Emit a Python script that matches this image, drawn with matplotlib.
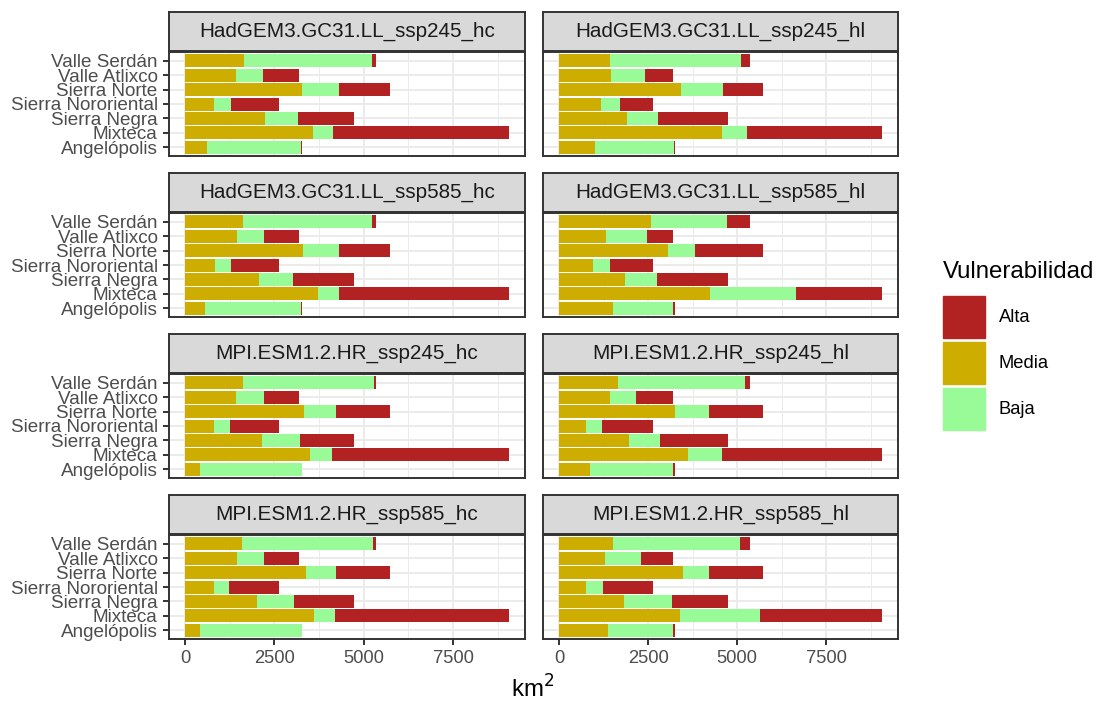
import numpy as np
from matplotlib import pyplot as plt
from matplotlib.patches import Patch

plt.rcParams['font.family'] = ['Liberation Sans', 'DejaVu Sans']

# regiones de arriba hacia abajo
regiones = ["Valle Serdán", "Valle Atlixco", "Sierra Norte", "Sierra Nororiental",
            "Sierra Negra", "Mixteca", "Angelópolis"]

escenarios = ["HadGEM3.GC31.LL_ssp245_hc", "HadGEM3.GC31.LL_ssp245_hl",
              "HadGEM3.GC31.LL_ssp585_hc", "HadGEM3.GC31.LL_ssp585_hl",
              "MPI.ESM1.2.HR_ssp245_hc", "MPI.ESM1.2.HR_ssp245_hl",
              "MPI.ESM1.2.HR_ssp585_hc", "MPI.ESM1.2.HR_ssp585_hl"]

# superficie (km2) por clase de vulnerabilidad, una fila por escenario
media_km2 = [[1660, 1420, 3280, 805, 2230, 3575, 610],
             [1415, 1450, 3435, 1170, 1900, 4570, 1005],
             [1620, 1460, 3295, 825, 2075, 3710, 565],
             [2570, 1310, 3060, 960, 1860, 4235, 1505],
             [1620, 1435, 3315, 805, 2160, 3510, 425],
             [1645, 1415, 3265, 755, 1955, 3630, 875],
             [1600, 1460, 3390, 805, 2000, 3595, 405],
             [1525, 1285, 3480, 765, 1825, 3405, 1365]]

baja_km2 = [[3585, 760, 1020, 475, 925, 575, 2640],
            [3695, 950, 1165, 535, 890, 715, 2225],
            [3620, 750, 1020, 470, 945, 595, 2685],
            [2140, 1145, 765, 455, 875, 2410, 1690],
            [3675, 760, 905, 455, 1045, 610, 2835],
            [3575, 735, 950, 455, 875, 940, 2335],
            [3670, 735, 835, 435, 1035, 610, 2855],
            [3565, 1020, 735, 465, 1340, 2230, 1820]]

alta_km2 = [[105, 1005, 1435, 1355, 1585, 4915, 15],
            [240, 785, 1135, 930, 1950, 3780, 35],
            [110, 975, 1420, 1340, 1720, 4760, 15],
            [640, 730, 1910, 1220, 2005, 2420, 70],
            [55, 990, 1515, 1375, 1535, 4945, 5],
            [130, 1035, 1520, 1425, 1910, 4495, 55],
            [80, 990, 1510, 1395, 1705, 4860, 5],
            [260, 880, 1520, 1405, 1575, 3430, 80]]

colores = {"Alta": "#B22222", "Media": "#CDAD00", "Baja": "#98FB98"}

W, H = 1098, 705
fig = plt.figure(figsize=(W / 100, H / 100), dpi=100)


def px_axes(x0, y0, x1, y1):
    # ejes ubicados en pixeles (origen arriba a la izquierda)
    return fig.add_axes([x0 / W, 1 - y1 / H, (x1 - x0) / W, (y1 - y0) / H])


media = np.array(media_km2)
baja = np.array(baja_km2)
alta = np.array(alta_km2)
xmax = (media + baja + alta).max()
y = np.arange(len(regiones))[::-1]

col_x = [(169, 525), (543, 898)]
for i, esc in enumerate(escenarios):
    fila, col = divmod(i, 2)
    top = 12 + 161 * fila
    x0, x1 = col_x[col]

    # franja con el nombre del escenario
    st = px_axes(x0, top, x1, top + 39)
    st.set_facecolor("#D9D9D9")
    st.set_xticks([])
    st.set_yticks([])
    for s in st.spines.values():
        s.set_color("#333333")
        s.set_linewidth(1.4)
    st.text(0.5, 0.5, esc, transform=st.transAxes, ha="center", va="center",
            fontsize=14.9, color="#1A1A1A")

    ax = px_axes(x0, top + 40, x1, top + 144)
    ax.barh(y, media[i], height=0.9, color=colores["Media"], zorder=3)
    ax.barh(y, baja[i], left=media[i], height=0.9, color=colores["Baja"], zorder=3)
    ax.barh(y, alta[i], left=media[i] + baja[i], height=0.9,
            color=colores["Alta"], zorder=3)

    ax.set_xlim(-0.05 * xmax, 1.05 * xmax)
    ax.set_ylim(-0.6, len(regiones) - 0.4)
    ax.set_xticks([0, 2500, 5000, 7500])
    ax.set_xticks([1250, 3750, 6250, 8750], minor=True)
    ax.set_yticks(y)
    ax.grid(True, which="major", color="#EBEBEB", lw=1.4, zorder=0)
    ax.grid(True, which="minor", axis="x", color="#EBEBEB", lw=0.7, zorder=0)
    for s in ax.spines.values():
        s.set_color("#333333")
        s.set_linewidth(1.4)
    ax.tick_params(which="minor", length=0)
    ax.tick_params(which="major", length=4.5, width=1.4, color="#333333",
                   labelcolor="#4D4D4D", labelsize=13.2, pad=3.6)
    ax.tick_params(axis="y", labelsize=13.6)

    if col == 0:
        ax.set_yticklabels(regiones)
    else:
        ax.tick_params(axis="y", length=0, labelleft=False)
    if fila < 3:
        ax.tick_params(axis="x", length=0, labelbottom=False)

fig.text(533 / W, 1 - 689 / H, "km$^2$", ha="center", va="center", fontsize=17.3)

# leyenda: titulo aparte para separarlo de las claves
fig.text(943 / W, 1 - 272 / H, "Vulnerabilidad", ha="left", va="center",
         fontsize=17.3)
handles = [Patch(color=colores[k]) for k in ["Alta", "Media", "Baja"]]
fig.legend(handles, ["Alta", "Media", "Baja"],
           loc="upper left", bbox_to_anchor=(943 / W, 1 - 296 / H),
           frameon=False, fontsize=13.2,
           handlelength=2.3, handleheight=3.15, labelspacing=0.22,
           handletextpad=0.75, borderpad=0, borderaxespad=0)

fig.savefig("out.png", dpi=100)
